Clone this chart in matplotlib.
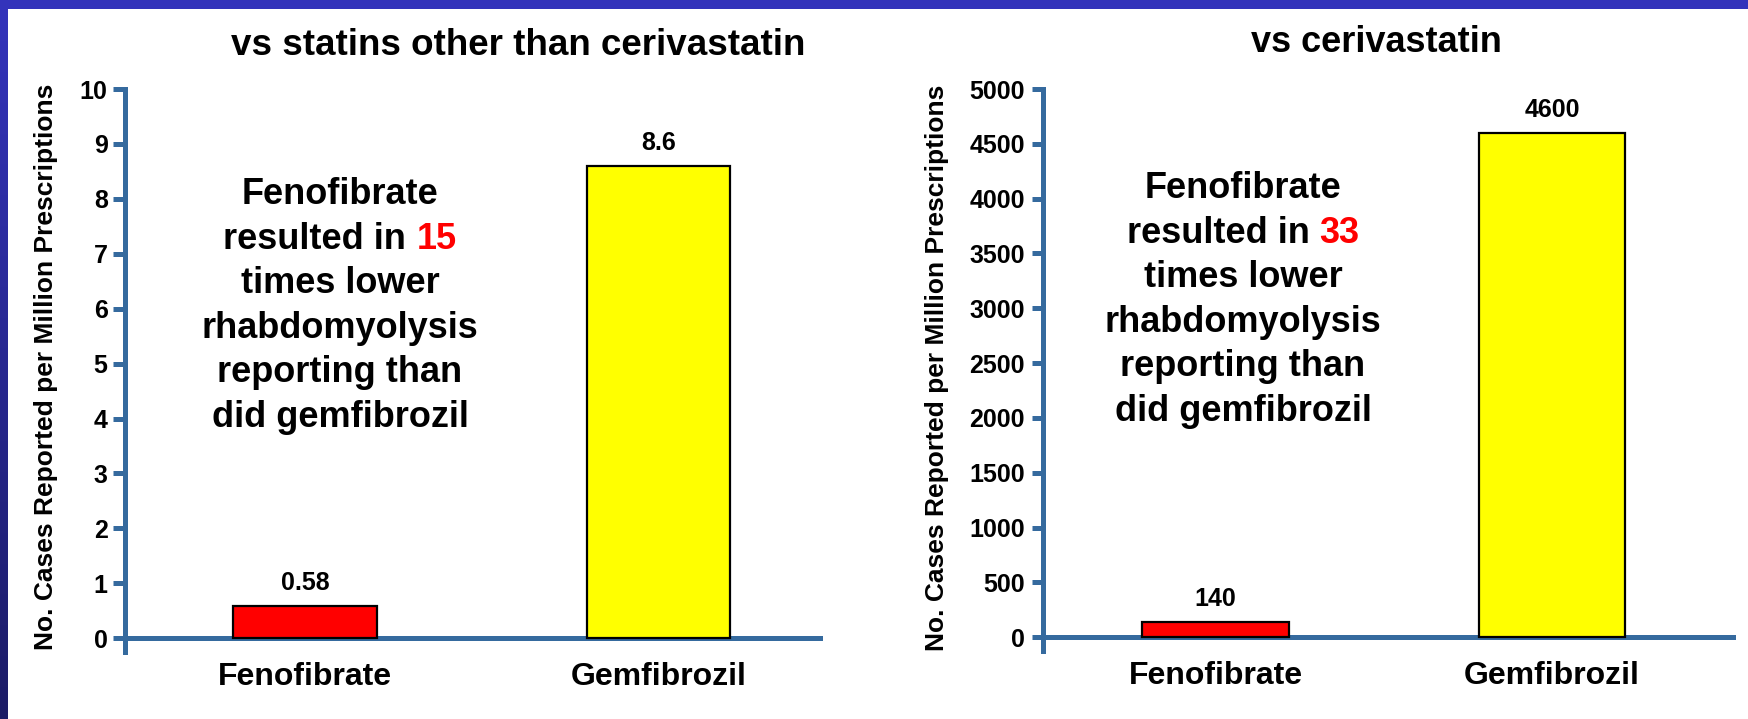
import matplotlib
matplotlib.use('Agg')
import matplotlib.pyplot as plt
import numpy as np
from matplotlib.patches import Rectangle

# ---------------- data ----------------
categories = ['Fenofibrate', 'Gemfibrozil']
left_values = [0.58, 8.6]
right_values = [140, 4600]
left_value_labels = ['0.58', '8.6']
right_value_labels = ['140', '4600']
left_ticks = [0, 1, 2, 3, 4, 5, 6, 7, 8, 9, 10]
right_ticks = [0, 500, 1000, 1500, 2000, 2500, 3000, 3500, 4000, 4500, 5000]
left_title = 'vs statins other than cerivastatin'
right_title = 'vs cerivastatin'
ylabel_text = 'No. Cases Reported per Million Prescriptions'
left_ratio = '15'
right_ratio = '33'
note_lines = ['Fenofibrate', 'resulted in {}', 'times lower',
              'rhabdomyolysis', 'reporting than', 'did gemfibrozil']
bar_colors = ['#ff0000', '#ffff00']

# ---------------- style ----------------
W, H = 1748, 719
DPI = 100
FONT = 'Liberation Sans'
AXC = '#356a9e'
plt.rcParams['font.family'] = [FONT, 'DejaVu Sans']
plt.rcParams['font.weight'] = 'bold'

fig = plt.figure(figsize=(W / DPI, H / DPI), dpi=DPI, facecolor='white')
renderer = fig.canvas.get_renderer()


def fx(x):
    return x / W


def fy(y):
    return 1 - y / H


# background frame (top bar + left gradient bar)
bg = fig.add_axes([0, 0, 1, 1], zorder=-10)
bg.set_xlim(0, W)
bg.set_ylim(H, 0)
bg.axis('off')
bg.add_patch(Rectangle((0, 0), W, 9, color='#3333bb', lw=0))
top_c = np.array([0x33, 0x33, 0xbb]) / 255
bot_c = np.array([0x1c, 0x1c, 0x66]) / 255
t = np.linspace(0, 1, 256)[:, None, None]
grad = top_c[None, None, :] * (1 - t) + bot_c[None, None, :] * t
bg.imshow(grad, extent=(0, 8, H, 9), aspect='auto')


def make_panel(box, xlim, ylim, ticks, values, vlabels, width, tick_len,
               tick_pad, cat_offset=47):
    l, t_, r, b = box
    ax = fig.add_axes([fx(l), fy(b), (r - l) / W, (b - t_) / H])
    ax.set_facecolor('none')
    x = np.arange(len(categories))
    ax.bar(x, values, width=width, color=bar_colors, edgecolor='black',
           linewidth=1.6, zorder=3)
    ax.set_xlim(*xlim)
    ax.set_ylim(*ylim)
    for s in ['top', 'right']:
        ax.spines[s].set_visible(False)
    ax.spines['bottom'].set_position(('data', 0))
    for s in ['left', 'bottom']:
        ax.spines[s].set_color(AXC)
        ax.spines[s].set_linewidth(3.6)
    ax.spines['bottom'].set_bounds(xlim[0] - 0.02, xlim[1])
    ax.set_yticks(ticks)
    ax.set_yticklabels([str(v) for v in ticks])
    ax.tick_params(axis='y', direction='out', length=tick_len, width=3.6,
                   color=AXC, labelsize=18, pad=tick_pad)
    ax.set_xticks([])
    for i, (v, lab) in enumerate(zip(values, vlabels)):
        ax.annotate(lab, xy=(x[i], v), xytext=(0, 16),
                    textcoords='offset pixels', ha='center', va='baseline',
                    fontsize=18, fontweight='bold')
        ax.annotate(categories[i], xy=(x[i], 0), xytext=(0, -cat_offset),
                    textcoords='offset pixels', ha='center', va='baseline',
                    fontsize=23, fontweight='bold', annotation_clip=False)
    return ax


axL = make_panel((125, 89, 820, 652), (-0.509, 1.457), (-0.25, 10),
                 left_ticks, left_values, left_value_labels, 0.407, 8.5, 4)
axR = make_panel((1043, 89, 1733, 651), (-0.513, 1.538), (-125, 5000),
                 right_ticks, right_values, right_value_labels, 0.435, 8, 5)

# titles
fig.text(fx(518), fy(55), left_title, ha='center', va='baseline',
         fontsize=26.5, fontweight='bold')
fig.text(fx(1376), fy(52), right_title, ha='center', va='baseline',
         fontsize=26, fontweight='bold')

# y labels
fig.text(fx(46), fy(367), ylabel_text, rotation=90, ha='center',
         va='center', fontsize=19, fontweight='bold')
fig.text(fx(937), fy(368), ylabel_text, rotation=90, ha='center',
         va='center', fontsize=19, fontweight='bold')


def note(cx, base0, dy, ratio, fs=26):
    for i, line in enumerate(note_lines):
        y = base0 + i * dy
        if '{}' in line:
            full = line.format(ratio)
            prefix = line.split('{}')[0].rstrip()
            tmp = fig.text(0, 0, full, fontsize=fs, fontweight='bold')
            wfull = tmp.get_window_extent(renderer).width
            tmp.remove()
            lx = cx - wfull / 2
            fig.text(fx(lx), fy(y), prefix, ha='left', va='baseline',
                     fontsize=fs, fontweight='bold')
            fig.text(fx(lx + wfull), fy(y), ratio, ha='right',
                     va='baseline', fontsize=fs, fontweight='bold',
                     color='#ff0000')
        else:
            fig.text(fx(cx), fy(y), line, ha='center', va='baseline',
                     fontsize=fs, fontweight='bold')


note(340, 204, 44.6, left_ratio)
note(1243, 198, 44.6, right_ratio)

fig.savefig('out.png', dpi=DPI, facecolor='white')
